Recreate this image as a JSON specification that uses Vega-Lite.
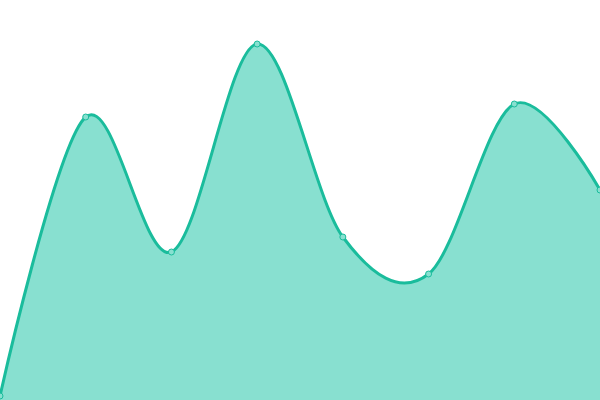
{
  "$schema": "https://vega.github.io/schema/vega-lite/v6.json",
  "width": 600,
  "height": 400,
  "autosize": "none",
  "padding": 0,
  "config": {"view": {"stroke": null}},
  "data": {
    "values": [
      {"x": 0, "y": 4},
      {"x": 1, "y": 283},
      {"x": 2, "y": 148},
      {"x": 3, "y": 356},
      {"x": 4, "y": 163},
      {"x": 5, "y": 126},
      {"x": 6, "y": 296},
      {"x": 7, "y": 210}
    ]
  },
  "encoding": {
    "x": {"field": "x", "type": "quantitative", "axis": null, "scale": {"domain": [0, 7], "nice": false}},
    "y": {"field": "y", "type": "quantitative", "axis": null, "scale": {"domain": [0, 400], "nice": false}}
  },
  "layer": [
    {"mark": {"type": "area", "interpolate": "cardinal", "color": "#88e0d0", "opacity": 1}},
    {"mark": {"type": "line", "interpolate": "cardinal", "color": "#1abc9c", "strokeWidth": 3}},
    {"mark": {"type": "point", "filled": true, "fill": "#88e0d0", "stroke": "#1abc9c", "strokeWidth": 1, "size": 36, "opacity": 1}}
  ]
}
